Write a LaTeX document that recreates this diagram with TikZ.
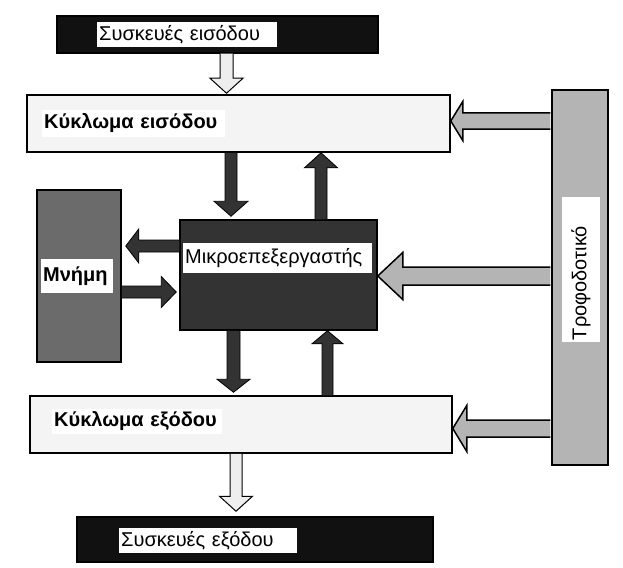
\documentclass[tikz,border=0pt]{standalone}
\usepackage{fontspec}
\setmainfont{Liberation Sans}
\usetikzlibrary{calc}

\definecolor{devfill}{HTML}{111111}
\definecolor{circfill}{HTML}{F4F4F4}
\definecolor{cpufill}{HTML}{333333}
\definecolor{memfill}{HTML}{6B6B6B}
\definecolor{psufill}{HTML}{B4B4B4}
\definecolor{hollowfill}{HTML}{EEEEEE}

\tikzset{
  box/.style={draw, line width=1.5pt, inner sep=0pt},
  lbl/.style={fill=white, inner xsep=2pt, inner ysep=0pt, anchor=west, align=left},
  darrow/.style={fill=cpufill, draw=black, line width=0.8pt},
  harrow/.style={fill=hollowfill, draw=black, line width=1pt},
  parrow/.style={fill=psufill, draw=black, line width=1.5pt}
}

% block arrow: [style]{from}{to}{shaft half width}{head half width}{head length}
\newcommand{\blockarrow}[6][]{%
  \path (#2) coordinate (ba-s) (#3) coordinate (ba-e);
  \path ($(ba-e)!#6!(ba-s)$) coordinate (ba-h);
  \filldraw[#1] ($(ba-s)!#4!90:(ba-e)$) -- ($(ba-h)!#4!-90:(ba-s)$)
    -- ($(ba-h)!#5!-90:(ba-s)$) -- (ba-e) -- ($(ba-h)!#5!90:(ba-s)$)
    -- ($(ba-h)!#4!90:(ba-s)$) -- ($(ba-s)!#4!-90:(ba-e)$);
}

\begin{document}
\begin{tikzpicture}[x=1pt, y=-1pt, font=\fontsize{20}{24}\selectfont]
\useasboundingbox (0,0) rectangle (623,567);

% Boxes
\node[box, fill=devfill, minimum width=321, minimum height=37] (indev) at (217.5,34.5) {};
\node[box, fill=circfill, minimum width=423, minimum height=57] (incirc) at (238.5,123.5) {};
\node[box, fill=cpufill, minimum width=197, minimum height=110] (cpu) at (278.5,275) {};
\node[box, fill=memfill, minimum width=84, minimum height=172] (mem) at (79,276) {};
\node[box, fill=circfill, minimum width=422, minimum height=57] (outcirc) at (241,424.5) {};
\node[box, fill=devfill, minimum width=356, minimum height=45] (outdev) at (255,539.5) {};
\node[box, fill=psufill, minimum width=56, minimum height=375] (psu) at (580,277.5) {};

% Labels
\node[lbl, text width=176pt, minimum height=25pt] (indevlbl) at (97,34.5) {Συσκευές εισόδου};
\node[lbl, text width=179pt, minimum height=27pt, font=\fontsize{20}{24}\selectfont\bfseries] (incirclbl) at (42,123.5) {Κύκλωμα εισόδου};
\node[lbl, text width=185pt, minimum height=30pt] (cpulbl) at (183,258) {Μικροεπεξεργαστής};
\node[lbl, text width=68pt, minimum height=34pt, font=\fontsize{20}{24}\selectfont\bfseries] (memlbl) at (41,276) {Μνήμη};
\node[lbl, text width=166pt, minimum height=25pt, font=\fontsize{20}{24}\selectfont\bfseries] (outcirclbl) at (52,421.5) {Κύκλωμα εξόδου};
\node[lbl, text width=174pt, minimum height=25pt] (outdevlbl) at (119,540.5) {Συσκευές εξόδου};
\node[lbl, anchor=center, rotate=90, text width=141pt, minimum height=38pt] (psulbl) at (581,269.5) {Τροφοδοτικό};

% Arrows
\blockarrow[harrow]{[xshift=9pt]indev.south}{[xshift=-12pt, yshift=1pt]incirc.north}{6.5pt}{16.5pt}{15pt}
\blockarrow[darrow]{[xshift=-7.5pt]incirc.south}{[xshift=-47.5pt, yshift=3pt]cpu.north}{6pt}{17pt}{15pt}
\blockarrow[darrow]{[xshift=42.5pt]cpu.north}{[xshift=82.5pt]incirc.south}{6pt}{16.5pt}{15pt}
\blockarrow[darrow]{[yshift=29pt]cpu.west}{[xshift=4pt, yshift=30pt]mem.east}{6pt}{17pt}{13pt}
\blockarrow[darrow]{[yshift=-16pt]mem.east}{[xshift=-3pt, yshift=-17pt]cpu.west}{6pt}{15.5pt}{15pt}
\blockarrow[darrow]{[xshift=-45pt]cpu.south}{[xshift=-7.5pt, yshift=3pt]outcirc.north}{6.5pt}{16.5pt}{13pt}
\blockarrow[darrow]{[xshift=86.5pt]outcirc.north}{[xshift=49pt]cpu.south}{5.5pt}{15.5pt}{13pt}
\blockarrow[harrow]{[xshift=-5pt]outcirc.south}{[xshift=-19pt, yshift=5pt]outdev.north}{6pt}{16.5pt}{15pt}

% Power supply arrows
\blockarrow[parrow]{[xshift=-1pt, yshift=156.5pt]psu.west}{[yshift=2.5pt]incirc.east}{8pt}{19.5pt}{12pt}
\blockarrow[parrow]{[xshift=-1pt, yshift=1.5pt]psu.west}{[yshift=-1pt]cpu.east}{9pt}{23.5pt}{25pt}
\blockarrow[parrow]{[xshift=-1pt, yshift=-151pt]psu.west}{[yshift=-4pt]outcirc.east}{8.5pt}{23pt}{14pt}

\end{tikzpicture}
\end{document}
